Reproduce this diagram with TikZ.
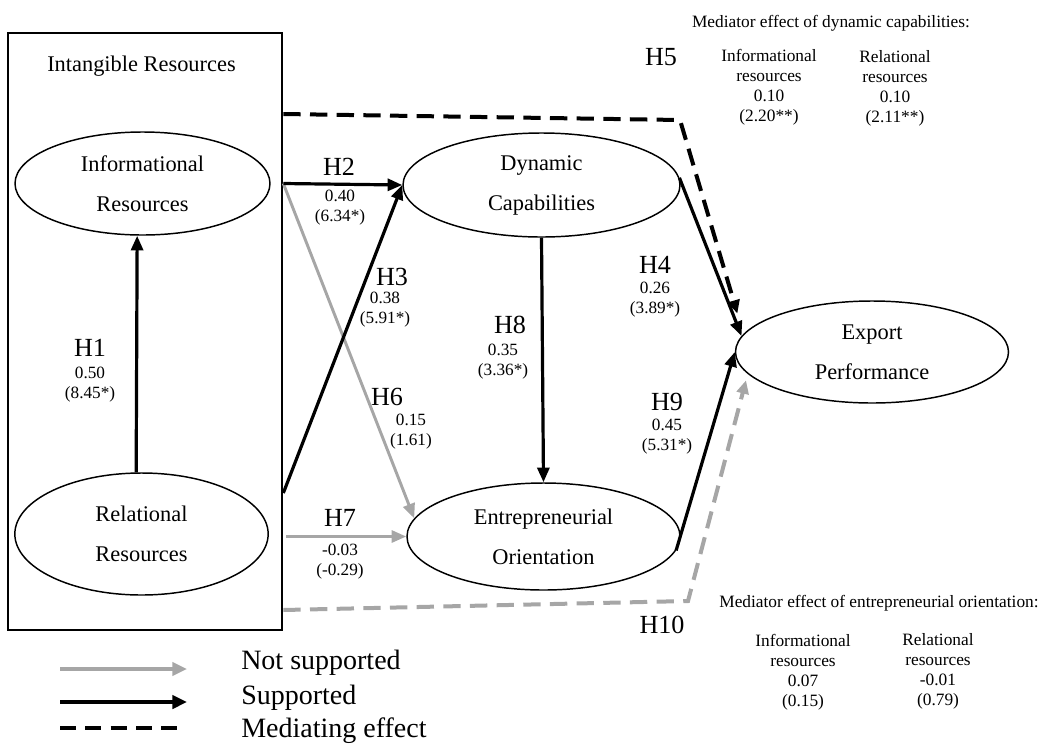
\documentclass[tikz,border=0pt]{standalone}
\usepackage{fontspec}
\setmainfont{Liberation Serif}
\usetikzlibrary{arrows.meta,shapes.geometric,calc}
\definecolor{lgray}{RGB}{166,166,166}
\begin{document}
\begin{tikzpicture}[x=0.75pt,y=-0.75pt,
  ell/.style={ellipse,draw,line width=1.1pt,inner sep=0pt,align=center,font=\fontsize{16.8}{30}\selectfont},
  hl/.style={font=\fontsize{19.6}{22}\selectfont,inner sep=0pt},
  nl/.style={font=\fontsize{12.9}{15}\selectfont,align=center,inner sep=0pt},
  md/.style={font=\fontsize{13}{15}\selectfont,align=center,inner sep=0pt},
  sup/.style={line width=2.4pt,-{Triangle[length=11pt,width=9pt]}},
  nsup/.style={lgray,line width=2.2pt,-{Triangle[length=11pt,width=9pt]}},
  med/.style={line width=3pt,dash pattern=on 13pt off 7pt,-{Triangle[length=10pt,width=9pt]}},
  nmed/.style={lgray,line width=3pt,dash pattern=on 13pt off 7pt,-{Triangle[length=10pt,width=9pt]}},
  lg/.style={font=\fontsize{21}{24}\selectfont,anchor=west,inner sep=0pt}
]
\useasboundingbox (0,0) rectangle (1042,747);

% box of intangible resources
\node[draw,line width=2pt,minimum width=205.5pt,minimum height=447.75pt,inner sep=0pt] (box) at (145,331.5) {};
\node[font=\fontsize{16.8}{20}\selectfont,inner sep=0pt] (ir) at (141.5,66) {Intangible Resources};

% constructs
\node[ell,minimum width=191.25pt,minimum height=77.25pt] (inf) at (142.5,183.5) {Informational\\Resources};
\node[ell,minimum width=190pt,minimum height=91.5pt] (rel) at (141.5,534) {Relational\\Resources};
\node[ell,minimum width=207.75pt,minimum height=78pt] (dyn) at (541.5,185) {Dynamic\\Capabilities};
\node[ell,minimum width=204.75pt,minimum height=80.25pt] (ent) at (543.5,536.5) {Entrepreneurial\\Orientation};
\node[ell,minimum width=204.75pt,minimum height=76.5pt] (exp) at (872,352) {Export\\Performance};

% paths
\draw[sup] ([xshift=-4pt]rel.north) -- ([xshift=-4pt]inf.south);
\draw[nsup] (box.east |- inf.east) -- (ent.172);
\draw[sup] (box.east |- inf.east) -- (dyn.west);
\draw[sup] (box.east |- 0,493) -- (dyn.west);
\draw[nsup] ([xshift=2pt]box.east |- ent.west) -- (ent.west);
\draw[sup] (dyn.south) -- (ent.north);
\draw[sup] (dyn.3) -- (exp.173);
\draw[sup] (ent.-6) -- (exp.west);
\coordinate (c5) at (680,120);
\coordinate (c10) at (688,601);
\draw[med,shorten >=16pt] (box.east |- 0,114) -- (c5) -- (exp.172);
\draw[nmed,shorten >=5pt] (box.east |- 0,610) -- (c10) -- (exp.190);

% hypothesis labels
\node[hl] (h1) at (90,348) {H1};
\node[nl] (n1) at (90,385) {0.50\\(8.45*)};
\node[hl] (h2) at (339,167) {H2};
\node[nl] (n2) at (340,208) {0.40\\(6.34*)};
\node[hl] (h3) at (392,277) {H3};
\node[nl] (n3) at (385,310) {0.38\\(5.91*)};
\node[hl] (h4) at (655,265) {H4};
\node[nl] (n4) at (655,300) {0.26\\(3.89*)};
\node[hl] (h5) at (661,57) {H5};
\node[hl] (h6) at (387,397) {H6};
\node[nl] (n6) at (411,432) {0.15\\(1.61)};
\node[hl] (h7) at (340,518) {H7};
\node[nl] (n7) at (340,562) {-0.03\\(-0.29)};
\node[hl] (h8) at (510,325) {H8};
\node[nl] (n8) at (503,362) {0.35\\(3.36*)};
\node[hl] (h9) at (667,402) {H9};
\node[nl] (n9) at (667,437) {0.45\\(5.31*)};
\node[hl] (h10) at (662,625) {H10};

% mediator effects
\node[md] (mt1) at (831,23) {Mediator effect of dynamic capabilities:};
\node[md] (mi1) at (769,87) {Informational\\resources\\0.10\\(2.20**)};
\node[md] (mr1) at (895,88) {Relational\\resources\\0.10\\(2.11**)};
\node[md] (mt2) at (879,603) {Mediator effect of entrepreneurial orientation:};
\node[md] (mi2) at (803,672) {Informational\\resources\\0.07\\(0.15)};
\node[md] (mr2) at (938,671) {Relational\\resources\\-0.01\\(0.79)};

% legend
\coordinate (la1) at (60,669);
\coordinate (lb1) at (187,669);
\coordinate (la2) at (60,702);
\coordinate (lb2) at (187,702);
\coordinate (la3) at (60,728);
\coordinate (lb3) at (177,728);
\draw[lgray,line width=2.4pt,-{Triangle[length=11pt,width=10pt]}] (la1) -- (lb1);
\draw[line width=2.6pt,-{Triangle[length=11pt,width=10pt]}] (la2) -- (lb2);
\draw[line width=3pt,dash pattern=on 12pt off 7pt] (la3) -- (lb3);
\node[lg] (t1) at (241,663) {Not supported};
\node[lg] (t2) at (241,698) {Supported};
\node[lg] (t3) at (241,731) {Mediating effect};
\end{tikzpicture}
\end{document}
